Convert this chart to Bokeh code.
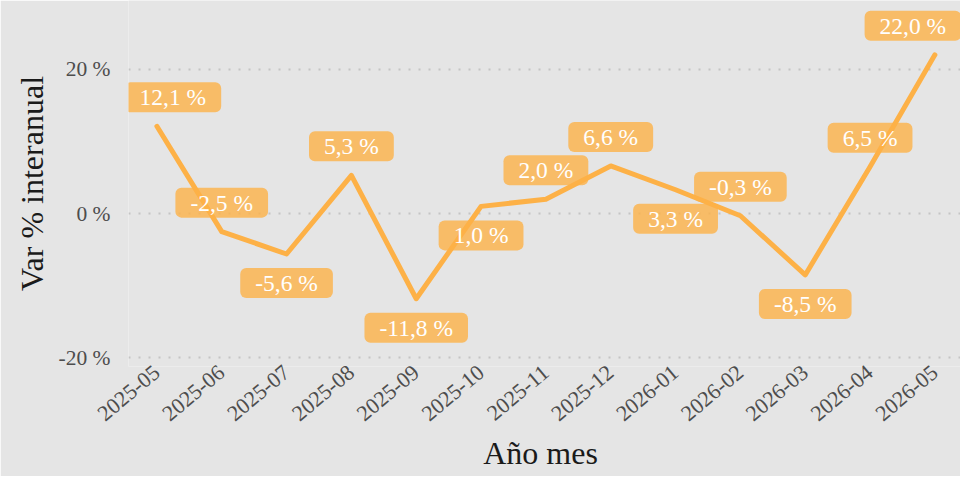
import math
from bokeh.plotting import figure
from bokeh.models import ColumnDataSource, Label, Range1d, FixedTicker
from bokeh.embed import file_html
from bokeh.resources import INLINE

# ---- data ----
months = ["2025-05", "2025-06", "2025-07", "2025-08", "2025-09", "2025-10",
          "2025-11", "2025-12", "2026-01", "2026-02", "2026-03", "2026-04", "2026-05"]
values = [12.1, -2.5, -5.6, 5.3, -11.8, 1.0, 2.0, 6.6, 3.3, -0.3, -8.5, 6.5, 22.0]
y_ticks = [-20, 0, 20]
y_tick_labels = ["-20 %", "0 %", "20 %"]

# ---- label layout (repel-like placement) ----
label_side = [1, 1, -1, 1, -1, -1, 1, 1, -1, 1, -1, 1, 1]
label_nudge_x = [16, 0, 0, 0, 0, 0, 0, 0, 0, 0, 0, 0, -22]
LABEL_GAP = 29

LINE_COLOR = "#FDB147"
BG = "#E5E5E5"
FONT = "Liberation Serif"

idx = list(range(len(months)))
labels = [f"{v:.1f}".replace(".", ",") + " %" for v in values]
src = ColumnDataSource(dict(x=idx, y=values))

p = figure(width=960, height=476, output_backend="svg", toolbar_location=None,
           x_range=Range1d(-0.438, 12.395), y_range=Range1d(-21.19, 29.53),
           min_border_left=128, min_border_right=0, min_border_top=0,
           min_border_bottom=110)
p.background_fill_color = BG
p.border_fill_color = BG
p.outline_line_color = None

# label boxes below line, text above
for xi, yi, lab, nx, side in zip(idx, values, labels, label_nudge_x, label_side):
    p.add_layout(Label(x=xi, y=yi, text=lab, x_offset=nx, y_offset=side * LABEL_GAP,
                       text_align="center", text_baseline="middle", text_font=FONT,
                       text_font_size="23.5px", text_color=LINE_COLOR, text_alpha=0.01,
                       background_fill_color=LINE_COLOR, background_fill_alpha=0.8,
                       padding=(15, 2), border_radius=6, level="underlay"))

p.line("x", "y", source=src, line_color=LINE_COLOR, line_width=5,
       line_cap="round", line_join="round")

for xi, yi, lab, nx, side in zip(idx, values, labels, label_nudge_x, label_side):
    p.add_layout(Label(x=xi, y=yi, text=lab, x_offset=nx, y_offset=side * LABEL_GAP,
                       text_align="center", text_baseline="middle", text_font=FONT,
                       text_font_size="23.5px", text_color="white",
                       padding=(15, 2)))

# axes
p.xaxis.ticker = FixedTicker(ticks=idx)
p.xaxis.major_label_overrides = {i: m for i, m in enumerate(months)}
p.xaxis.major_label_orientation = math.radians(40)
p.yaxis.ticker = FixedTicker(ticks=y_ticks)
p.yaxis.major_label_overrides = {t: l for t, l in zip(y_ticks, y_tick_labels)}

for ax in (p.xaxis, p.yaxis):
    ax.axis_line_color = None
    ax.major_tick_line_color = None
    ax.minor_tick_line_color = None
    ax.major_tick_in = 0
    ax.major_tick_out = 0
    ax.major_label_text_font = FONT
    ax.major_label_text_font_size = "21.5px"
    ax.major_label_text_color = "#4D4D4D"
    ax.axis_label_text_font = FONT
    ax.axis_label_text_font_size = "32px"
    ax.axis_label_text_font_style = "normal"
    ax.axis_label_text_color = "#1A1A1A"

p.xaxis.major_label_text_font_size = "22px"
p.xaxis.axis_label = "Año  mes"
p.yaxis.axis_label = "Var % interanual"
p.yaxis.major_label_standoff = 18
p.yaxis.axis_label_standoff = 6
p.xaxis.major_label_standoff = 3
p.xaxis.axis_label_standoff = 5

p.xgrid.grid_line_color = None
p.ygrid.grid_line_color = "#C4C4C4"
p.ygrid.grid_line_width = 2
p.ygrid.grid_line_dash = "2 8"

open("out.html", "w").write(file_html(p, INLINE))
